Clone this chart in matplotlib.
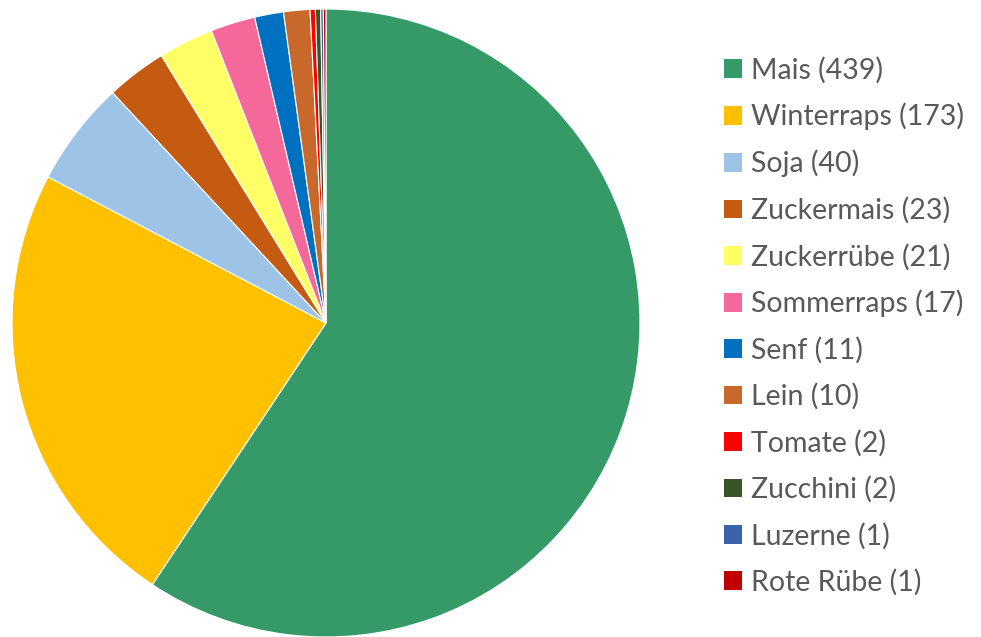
import matplotlib
matplotlib.use("Agg")
import matplotlib.pyplot as plt

# ---- data ----
crops = ["Mais", "Winterraps", "Soja", "Zuckermais", "Zuckerrübe", "Sommerraps",
         "Senf", "Lein", "Tomate", "Zucchini", "Luzerne", "Rote Rübe"]
counts = [439, 173, 40, 23, 21, 17, 11, 10, 2, 2, 1, 1]
colors = ["#359A67", "#FFC000", "#9DC3E6", "#C55A11", "#FFFF66", "#F4699A",
          "#0070C0", "#C8682A", "#FF0000", "#375623", "#3A62A8", "#C00000"]

plt.rcParams["font.family"] = ["Lato", "DejaVu Sans"]

fig = plt.figure(figsize=(9.81, 6.37), dpi=100)
fig.patch.set_facecolor("white")

# pie axes: center ~ (326, 323) px, radius ~ 313 px
W, H = 981, 637
r = 314
cx, cy = 326, 323
ax = fig.add_axes([(cx - r) / W, (H - cy - r) / H, 2 * r / W, 2 * r / H])
wedges, _ = ax.pie(counts, colors=colors, startangle=90, counterclock=False,
                   radius=1.0, wedgeprops=dict(edgecolor="white", linewidth=0.8))
ax.set_xlim(-1, 1); ax.set_ylim(-1, 1)
ax.set_aspect("equal")
ax.axis("off")

labels = [f"{c} ({n})" for c, n in zip(crops, counts)]
leg = fig.legend(wedges, labels, loc="upper left",
                 bbox_to_anchor=(713 / W, 1 - 45 / H), frameon=False,
                 fontsize=20.5, labelcolor="#595959",
                 handlelength=0.63, handleheight=0.63, handletextpad=0.3,
                 labelspacing=0.685, borderaxespad=0)
for h in leg.legend_handles:
    h.set_edgecolor("none")

fig.savefig("out.png", dpi=100, facecolor="white")
